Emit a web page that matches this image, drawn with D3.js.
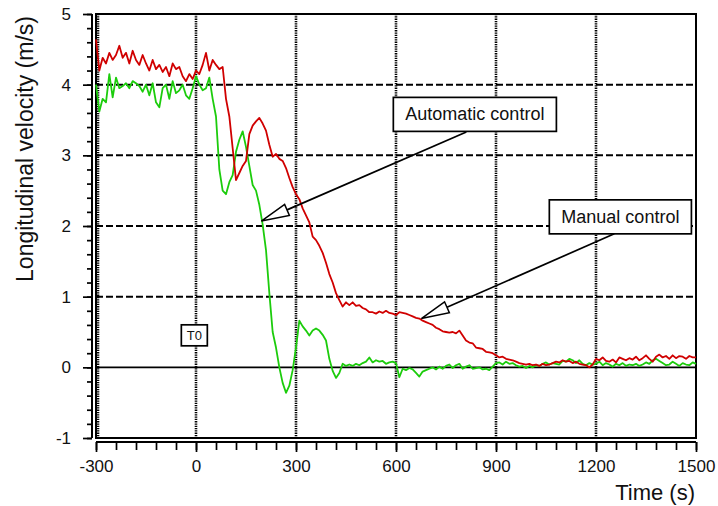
<!DOCTYPE html>
<html>
<head>
<meta charset="utf-8">
<script src="https://cdn.jsdelivr.net/npm/d3@7/dist/d3.min.js"></script>
<style>
  body { margin: 0; background: #fff; }
  svg { font-family: "Liberation Sans", Arial, sans-serif; }
</style>
</head>
<body>
<svg id="chart" width="718" height="506"></svg>
<script>
// ===== data (time step 10 s, -300 .. 1500) =====
const timeStart = -300, timeStep = 10;

// Manual control (red)
const manualVel = [
  4.64, 4.20, 4.38, 4.30, 4.45, 4.35, 4.42, 4.55, 4.38, 4.45, // -300
  4.30, 4.48, 4.35, 4.28, 4.42, 4.30, 4.20, 4.35, 4.22, 4.28, // -200
  4.18, 4.25, 4.12, 4.30, 4.22, 4.25, 4.12, 4.05, 4.15, 4.08, // -100
  4.20, 4.15, 4.28, 4.45, 4.20, 4.35, 4.28, 4.22, 4.25, 3.80, // 0
  3.55, 3.10, 2.65, 2.75, 2.85, 2.92, 3.30, 3.42, 3.48, 3.53, // 100
  3.45, 3.35, 3.15, 2.98, 3.02, 2.95, 2.92, 2.82, 2.68, 2.55, // 200
  2.45, 2.38, 2.25, 2.15, 2.05, 1.85, 1.80, 1.72, 1.62, 1.48, // 300
  1.32, 1.20, 1.05, 0.95, 0.86, 0.92, 0.88, 0.92, 0.87, 0.88, // 400
  0.84, 0.82, 0.78, 0.78, 0.76, 0.79, 0.77, 0.80, 0.77, 0.76, // 500
  0.74, 0.78, 0.77, 0.76, 0.74, 0.72, 0.70, 0.69, 0.66, 0.64, // 600
  0.62, 0.60, 0.56, 0.54, 0.51, 0.50, 0.49, 0.50, 0.48, 0.52, // 700
  0.45, 0.38, 0.35, 0.34, 0.28, 0.27, 0.26, 0.22, 0.21, 0.20, // 800
  0.17, 0.14, 0.15, 0.12, 0.11, 0.10, 0.08, 0.06, 0.05, 0.04, // 900
  0.05, 0.03, 0.04, 0.02, 0.05, 0.03, 0.04, 0.06, 0.08, 0.07, // 1000
  0.10, 0.08, 0.09, 0.06, 0.08, 0.05, 0.04, 0.03, 0.00, 0.04, // 1100
  0.12, 0.10, 0.14, 0.09, 0.08, 0.11, 0.07, 0.14, 0.12, 0.10, // 1200
  0.13, 0.11, 0.15, 0.10, 0.13, 0.17, 0.12, 0.08, 0.15, 0.18, // 1300
  0.14, 0.16, 0.12, 0.17, 0.13, 0.16, 0.15, 0.12, 0.16, 0.14, // 1400
  0.14                                                        // 1500
];

// Automatic control (green)
const autoVel = [
  4.00, 3.62, 3.80, 3.75, 4.15, 3.82, 4.10, 3.95, 3.98, 4.02, // -300
  3.95, 4.05, 4.02, 3.98, 3.90, 4.00, 3.85, 4.02, 3.75, 3.68, // -200
  3.95, 4.00, 3.80, 4.05, 3.88, 3.92, 4.00, 3.85, 3.80, 3.95, // -100
  4.12, 4.00, 3.92, 3.95, 4.10, 3.80, 3.55, 2.80, 2.50, 2.45, // 0
  2.62, 2.72, 3.05, 3.22, 3.34, 3.12, 2.85, 2.58, 2.50, 2.30, // 100
  2.02, 1.66, 1.05, 0.50, 0.28, 0.00, -0.22, -0.36, -0.26, -0.04, // 200
  0.28, 0.66, 0.58, 0.52, 0.45, 0.52, 0.55, 0.52, 0.46, 0.38, // 300
  0.12, -0.05, -0.15, -0.08, 0.05, 0.02, 0.04, 0.02, 0.05, 0.03, // 400
  0.06, 0.08, 0.14, 0.07, 0.10, 0.08, 0.09, 0.05, 0.07, 0.08, // 500
  0.06, -0.14, -0.02, -0.04, -0.01, -0.03, -0.08, -0.13, -0.06, -0.04, // 600
  -0.02, 0.00, -0.03, 0.01, -0.02, 0.02, 0.04, -0.01, 0.03, 0.05, // 700
  -0.02, 0.01, 0.03, -0.02, -0.01, 0.00, -0.03, -0.02, -0.04, 0.01, // 800
  0.06, 0.07, 0.04, 0.08, 0.05, 0.06, 0.03, 0.01, 0.02, -0.01, // 900
  0.02, 0.00, 0.03, 0.02, 0.05, 0.07, 0.04, 0.06, 0.05, 0.04, // 1000
  0.09, 0.08, 0.12, 0.10, 0.06, 0.10, 0.05, 0.03, 0.06, 0.04, // 1100
  0.05, 0.08, 0.03, 0.06, 0.04, 0.01, 0.05, 0.03, 0.06, 0.02, // 1200
  0.04, 0.03, 0.05, 0.02, 0.04, 0.07, 0.05, 0.10, 0.12, 0.09, // 1300
  0.06, 0.03, 0.04, 0.08, 0.05, 0.02, 0.06, 0.04, 0.03, 0.07, // 1400
  0.05                                                        // 1500
];

const xMajorTicks = [-300, 0, 300, 600, 900, 1200, 1500];
const yMajorTicks = [-1, 0, 1, 2, 3, 4, 5];
const xGridLines = [-300, 0, 300, 600, 900, 1200];
const yGridLines = [1, 2, 3, 4];

// annotations in data units: [label, boxLeft t, boxTop v, tail t, tail v, tip t, tip v]
const annotations = [
  ["Automatic control", 592, 3.82, 811, 3.33, 196, 2.07],
  ["Manual control", 1060, 2.37, 1255, 1.89, 676, 0.69]
];
const t0Label = { text: "T0", t: -5, v: 0.46 };

// ===== layout =====
const svg = d3.select("#chart");
const xScale = d3.scaleLinear().domain([-300, 1500]).range([96, 696]);
const yScale = d3.scaleLinear().domain([-1, 5]).range([438, 14]);

const series = (vals) => vals.map((v, i) => ({ t: timeStart + i * timeStep, v: v }));

// grid
const grid = svg.append("g");
grid.selectAll("line.h")
  .data(yGridLines)
  .enter()
  .append("line")
  .attr("x1", xScale(-300)).attr("x2", xScale(1500))
  .attr("y1", (d) => yScale(d)).attr("y2", (d) => yScale(d))
  .attr("stroke", "#000").attr("stroke-width", 2)
  .attr("stroke-dasharray", "7,3");
grid.selectAll("line.v")
  .data(xGridLines)
  .enter()
  .append("line")
  .attr("x1", (d) => xScale(d) + (d == -300 ? 2 : 0))
  .attr("x2", (d) => xScale(d) + (d == -300 ? 2 : 0))
  .attr("y1", yScale(5)).attr("y2", yScale(-1))
  .attr("stroke", "#000").attr("stroke-width", 2.6)
  .attr("stroke-dasharray", "1.3,1");
// zero line
grid.append("line")
  .attr("x1", xScale(-300)).attr("x2", xScale(1500))
  .attr("y1", yScale(0)).attr("y2", yScale(0))
  .attr("stroke", "#000").attr("stroke-width", 1.8);

// frame
svg.append("rect")
  .attr("x", xScale(-300)).attr("y", yScale(5))
  .attr("width", xScale(1500) - xScale(-300))
  .attr("height", yScale(-1) - yScale(5))
  .attr("fill", "none").attr("stroke", "#000").attr("stroke-width", 2);

// data lines
const line = d3.line().x((d) => xScale(d.t)).y((d) => yScale(d.v));
svg.append("path")
  .datum(series(autoVel))
  .attr("d", line)
  .attr("fill", "none").attr("stroke", "#1ccc0c").attr("stroke-width", 1.8)
  .attr("stroke-linejoin", "round");
svg.append("path")
  .datum(series(manualVel))
  .attr("d", line)
  .attr("fill", "none").attr("stroke", "#d00000").attr("stroke-width", 1.8)
  .attr("stroke-linejoin", "round");

// axes (hyphen minus like the original, not U+2212)
const plain = (d) => String(d);
const yAxisG = svg.append("g").attr("transform", "translate(92,0)");
yAxisG.call(d3.axisLeft(yScale).tickValues(d3.range(-1, 5.001, 0.2)).tickSize(5).tickFormat(""));
yAxisG.append("g").call(d3.axisLeft(yScale).tickValues(yMajorTicks).tickSize(9).tickPadding(12).tickFormat(plain));
yAxisG.selectAll("path.domain").attr("stroke-width", 2).attr("d", `M0,${yScale(5)}V${yScale(-1)}`);
yAxisG.selectAll("line").attr("stroke-width", 1.7);
yAxisG.selectAll("text").style("font-size", "17px").attr("fill", "#111");

const xAxisG = svg.append("g").attr("transform", "translate(0,442)");
xAxisG.call(d3.axisBottom(xScale).tickValues(d3.range(-300, 1501, 60)).tickSize(8).tickFormat(""));
xAxisG.append("g").call(d3.axisBottom(xScale).tickValues(xMajorTicks).tickSize(10).tickPadding(8).tickFormat(plain));
xAxisG.selectAll("path.domain").attr("stroke-width", 2).attr("d", `M${xScale(-300)},0H${xScale(1500)}`);
xAxisG.selectAll("line").attr("stroke-width", 1.7);
xAxisG.selectAll("text").style("font-size", "17px").attr("fill", "#111");

// axis titles
svg.append("text")
  .attr("x", 695).attr("y", 500)
  .attr("text-anchor", "end")
  .style("font-size", "22px").attr("fill", "#111")
  .text("Time (s)");
svg.append("text")
  .attr("transform", "translate(33,149) rotate(-90)")
  .attr("text-anchor", "middle")
  .style("font-size", "23px").attr("fill", "#111")
  .text("Longitudinal velocity (m/s)");

// annotations with open-head arrows
const ann = svg.append("g");
annotations.forEach(([label, bt, bv, tt, tv, pt, pv]) => {
  const tip = [xScale(pt), yScale(pv)];
  const tail = [xScale(tt), yScale(tv)];
  const dx = tail[0] - tip[0], dy = tail[1] - tip[1];
  const len = Math.hypot(dx, dy);
  const ux = dx / len, uy = dy / len;
  const headLen = 28, headW = 6;
  const base = [tip[0] + ux * headLen, tip[1] + uy * headLen];
  ann.append("line")
    .attr("x1", base[0]).attr("y1", base[1])
    .attr("x2", tail[0]).attr("y2", tail[1])
    .attr("stroke", "#000").attr("stroke-width", 1.7);
  ann.append("path")
    .attr("d", `M${tip[0]},${tip[1]}L${base[0] - uy * headW},${base[1] + ux * headW}L${base[0] + uy * headW},${base[1] - ux * headW}Z`)
    .attr("fill", "#fff").attr("stroke", "#000").attr("stroke-width", 1.5);
  const bx = xScale(bt), by = yScale(bv);
  const box = ann.append("rect")
    .attr("x", bx).attr("y", by).attr("height", 34)
    .attr("fill", "#fff").attr("stroke", "#000").attr("stroke-width", 1.7);
  const txt = ann.append("text")
    .attr("x", bx + 12).attr("y", by + 23)
    .style("font-size", "18px").attr("fill", "#111")
    .text(label);
  box.attr("width", txt.node().getComputedTextLength() + 24);
});

// T0 marker
const t0x = xScale(t0Label.t), t0y = yScale(t0Label.v);
ann.append("rect")
  .attr("x", t0x - 13).attr("y", t0y - 10)
  .attr("width", 26).attr("height", 21)
  .attr("fill", "#fff").attr("stroke", "#000").attr("stroke-width", 1.7);
ann.append("text")
  .attr("x", t0x).attr("y", t0y + 5)
  .attr("text-anchor", "middle")
  .style("font-size", "13px").attr("fill", "#111")
  .text(t0Label.text);
</script>
</body>
</html>
